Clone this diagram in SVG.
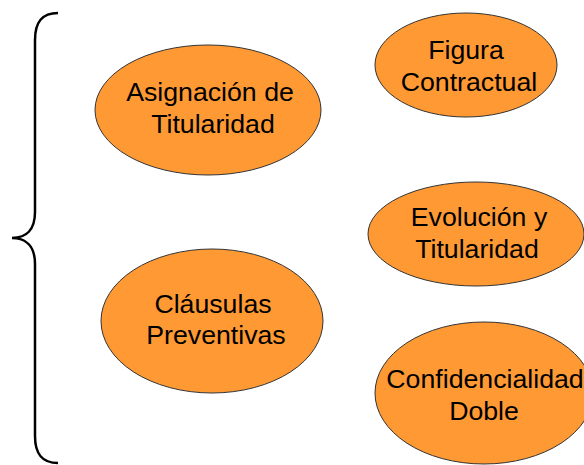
<svg xmlns="http://www.w3.org/2000/svg" width="584" height="465" viewBox="0 0 584 465">
<style>
.n{fill:#FF9933;stroke:#333333;stroke-width:1}
.t{font-family:"Liberation Sans",Arial,sans-serif;font-size:26.7px;fill:#000;text-anchor:middle}
.b{fill:none;stroke:#000;stroke-width:2.5}
</style>
<rect width="584" height="465" fill="#fff"/>
<g id="connectors">
<path class="b" d="M58,13 C42,13 35,22 35,40 L35,212 C35,230 26,238 12,238 C26,238 35,246 35,264 L35,436 C35,454 42,463 58,463"/>
</g>
<g id="asignacion">
<ellipse class="n" cx="208" cy="110" rx="113" ry="65"/>
<text class="t" x="210" y="101">Asignación de</text>
<text class="t" x="213" y="133">Titularidad</text>
</g>
<g id="figura">
<ellipse class="n" cx="466" cy="65" rx="91" ry="52"/>
<text class="t" x="466" y="59">Figura</text>
<text class="t" x="469" y="91">Contractual</text>
</g>
<g id="evolucion">
<ellipse class="n" cx="476" cy="234" rx="108" ry="52"/>
<text class="t" x="479" y="226">Evolución y</text>
<text class="t" x="477" y="258">Titularidad</text>
</g>
<g id="clausulas">
<ellipse class="n" cx="212" cy="321" rx="111" ry="72"/>
<text class="t" x="213" y="313">Cláusulas</text>
<text class="t" x="216" y="344">Preventivas</text>
</g>
<g id="confidencialidad">
<ellipse class="n" cx="484" cy="393" rx="109" ry="71"/>
<text class="t" x="485" y="388">Confidencialidad</text>
<text class="t" x="484" y="420">Doble</text>
</g>
</svg>
